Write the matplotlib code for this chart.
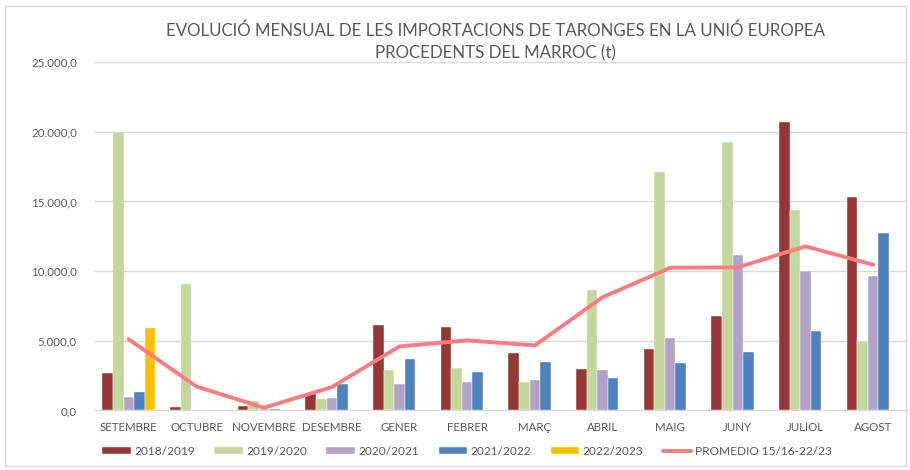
import numpy as np
import matplotlib
matplotlib.use("Agg")
from matplotlib import pyplot as plt
from matplotlib.patches import Rectangle

plt.rcParams['font.family'] = ['Lato', 'DejaVu Sans']

months = ['SETEMBRE', 'OCTUBRE', 'NOVEMBRE', 'DESEMBRE', 'GENER', 'FEBRER',
          'MARÇ', 'ABRIL', 'MAIG', 'JUNY', 'JULIOL', 'AGOST']

s_2018 = [2700, 250, 300, 1150, 6100, 6000, 4150, 2980, 4430, 6800, 20700, 15350]
s_2019 = [19950, 9100, 670, 790, 2870, 3020, 2050, 8670, 17100, 19280, 14400, 5010]
s_2020 = [1000, 0, 100, 880, 1870, 2030, 2200, 2930, 5220, 11130, 10030, 9650]
s_2021 = [1300, 0, 100, 1870, 3710, 2730, 3450, 2350, 3430, 4170, 5720, 12710]
s_2022 = [5900, 0, 0, 0, 0, 0, 0, 0, 0, 0, 0, 0]
promedio = [5100, 1720, 200, 1680, 4600, 5030, 4670, 8120, 10240, 10270, 11780, 10460]

series = [('2018/2019', s_2018, '#953735'),
          ('2019/2020', s_2019, '#C3D69B'),
          ('2020/2021', s_2020, '#B3A2C7'),
          ('2021/2022', s_2021, '#4F81BD'),
          ('2022/2023', s_2022, '#FFC000')]

fig = plt.figure(figsize=(9.1, 4.7), dpi=100)
ax = fig.add_axes([0.1044, 0.1266, 0.8923, 0.7414])

x = np.arange(len(months))
w = 0.157
handles = []
for i, (lab, vals, col) in enumerate(series):
    b = ax.bar(x + (i - 2) * w, vals, w, color=col, label=lab,
               edgecolor='white', linewidth=0.3, zorder=3)
    handles.append(b)
ln, = ax.plot(x, promedio, color='#FF7C80', linewidth=2.8, label='PROMEDIO 15/16-22/23',
              zorder=4, solid_capstyle='round')
handles.append(ln)

ax.set_xlim(-0.5, 11.5)
ax.set_ylim(0, 25000)
ax.set_yticks(np.arange(0, 25001, 5000))
ax.set_yticklabels(['{:,.1f}'.format(v).replace(',', 'X').replace('.', ',').replace('X', '.')
                    for v in np.arange(0, 25001, 5000)])
ax.set_xticks(x)
ax.set_xticklabels(months)
ax.tick_params(axis='both', length=0, labelsize=8.3, colors='#595959')
ax.tick_params(axis='x', pad=8)
ax.tick_params(axis='y', pad=13)
ax.grid(axis='y', color='#D9D9D9', linewidth=1, zorder=0)
for s in ['top', 'right', 'left']:
    ax.spines[s].set_visible(False)
ax.spines['bottom'].set_color('#D9D9D9')

fig.text(0.544, 0.935, 'EVOLUCIÓ MENSUAL DE LES IMPORTACIONS DE TARONGES EN LA UNIÓ EUROPEA',
         ha='center', va='center', fontsize=12.2, color='#595959')
fig.text(0.544, 0.887, 'PROCEDENTS DEL MARROC (t)',
         ha='center', va='center', fontsize=12.2, color='#595959')

leg = fig.legend(handles=handles, labels=[h.get_label() for h in handles],
                 loc='center', bbox_to_anchor=(0.513, 0.04), ncol=6, frameon=False,
                 fontsize=8.6, handlelength=2.4, handleheight=0.6, columnspacing=1.6,
                 handletextpad=0.3)
for t in leg.get_texts():
    t.set_color('#595959')

fig.patches.append(Rectangle((0.006, 0.008), 0.99, 0.98, transform=fig.transFigure,
                             fill=False, edgecolor='#D9D9D9', linewidth=1))

fig.savefig('out.png', dpi=100)
